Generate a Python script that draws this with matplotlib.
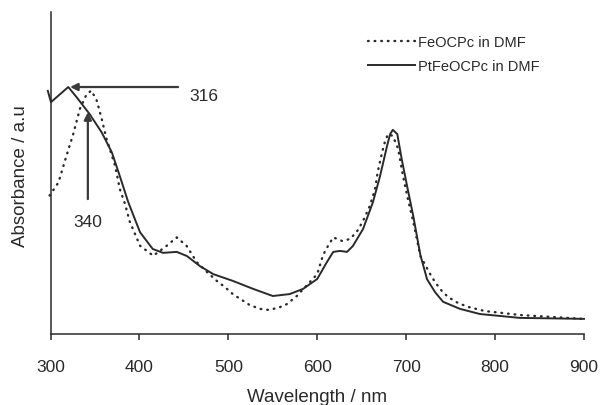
import matplotlib
matplotlib.use("Agg")
import matplotlib.pyplot as plt

plt.rcParams['font.family'] = ['Liberation Sans', 'DejaVu Sans']

# PtFeOCPc in DMF (solid)
pt_wl = [297, 300.5, 310, 320, 329.5, 344, 357.6, 369, 378, 387.5, 400.7, 415,
         426.6, 442, 453.5, 468, 483, 505, 528, 550, 569, 584, 600, 611, 618,
         625.6, 633.5, 640, 651.5, 662.7, 670.6, 678.5, 682, 685, 690, 695,
         701, 708, 716, 723.5, 732.5, 741.5, 760.6, 783, 805.6, 828, 900]
pt_abs = [0.755, 0.72, 0.743, 0.767, 0.735, 0.683, 0.626, 0.564, 0.49, 0.409,
          0.316, 0.264, 0.252, 0.255, 0.242, 0.211, 0.186, 0.165, 0.14, 0.118,
          0.124, 0.14, 0.171, 0.224, 0.255, 0.258, 0.255, 0.273, 0.326, 0.41,
          0.49, 0.584, 0.621, 0.634, 0.621, 0.543, 0.46, 0.366, 0.245, 0.17,
          0.13, 0.1, 0.078, 0.062, 0.056, 0.05, 0.047]

# FeOCPc in DMF (dotted)
fe_wl = [299, 309, 318, 325.6, 333, 340.7, 346, 352, 357.6, 363, 372.6, 378,
         383.8, 389, 400.7, 415.6, 430.7, 442, 453, 464.5, 477, 487, 496, 505,
         515, 524, 535.7, 544.7, 556, 566, 577, 600, 606.5, 612, 618, 628, 637,
         645, 651.5, 659, 665, 668, 673, 676, 679.6, 685, 691, 696.5, 702, 708,
         716, 721, 727, 732.5, 740, 747, 758.5, 770, 789, 809, 828, 899]
fe_abs = [0.43, 0.471, 0.554, 0.621, 0.699, 0.745, 0.756, 0.725, 0.668, 0.606,
          0.523, 0.45, 0.404, 0.35, 0.274, 0.243, 0.274, 0.30, 0.274, 0.223,
          0.19, 0.165, 0.146, 0.124, 0.106, 0.09, 0.078, 0.075, 0.081, 0.093,
          0.118, 0.186, 0.245, 0.273, 0.30, 0.289, 0.295, 0.32, 0.351, 0.397,
          0.45, 0.503, 0.565, 0.596, 0.621, 0.615, 0.575, 0.49, 0.419, 0.348,
          0.242, 0.217, 0.186, 0.161, 0.134, 0.115, 0.096, 0.084, 0.071, 0.065,
          0.059, 0.047]

xticks = [300, 400, 500, 600, 700, 800, 900]

ink = '#2a2a2a'

fig = plt.figure(figsize=(6.01, 4.06), dpi=100)
ax = fig.add_axes([50.5 / 601, 71 / 406, 533.5 / 601, 322 / 406])

ax.plot(fe_wl, fe_abs, color=ink, lw=1.7, linestyle=(0, (0.3, 2.5)),
        dash_capstyle='round', clip_on=False, label='FeOCPc in DMF')
ax.plot(pt_wl, pt_abs, color=ink, lw=1.4, clip_on=False, label='PtFeOCPc in DMF')

ax.set_xlim(300, 900)
ax.set_ylim(0, 1)
ax.set_xticks(xticks)
ax.set_yticks([])
ax.tick_params(axis='x', direction='out', length=4, width=1.1, colors=ink,
               labelsize=12.5, pad=14)
for side in ['top', 'right']:
    ax.spines[side].set_visible(False)
for side in ['left', 'bottom']:
    ax.spines[side].set_linewidth(1.1)
    ax.spines[side].set_color(ink)

ax.set_xlabel('Wavelength / nm', fontsize=13.5, color=ink)
ax.xaxis.set_label_coords(0.5, -0.168)
ax.set_ylabel('Absorbance / a.u', fontsize=13.5, color=ink)
ax.yaxis.set_label_coords(-0.0405, 0.494)

# peak annotations
arrow = dict(arrowstyle='-|>', lw=1.6, color='#3a3a3a', mutation_scale=11,
             shrinkA=0, shrinkB=0)
ax.annotate('', xy=(322, 0.767), xytext=(443.5, 0.767), arrowprops=arrow)
ax.text(472.5, 0.74, '316', fontsize=12.5, color=ink, ha='center', va='center')
ax.annotate('', xy=(342, 0.689), xytext=(342, 0.419), arrowprops=arrow)
ax.text(342, 0.348, '340', fontsize=12.5, color=ink, ha='center', va='center')

ax.legend(loc='upper left', bbox_to_anchor=(368 / 601, 1 - 36 / 406),
          bbox_transform=fig.transFigure, frameon=False, fontsize=10.5,
          handlelength=3.2, handletextpad=0.2, labelspacing=0.7,
          borderpad=0, borderaxespad=0, labelcolor=ink)

fig.savefig('out.png', dpi=100)
